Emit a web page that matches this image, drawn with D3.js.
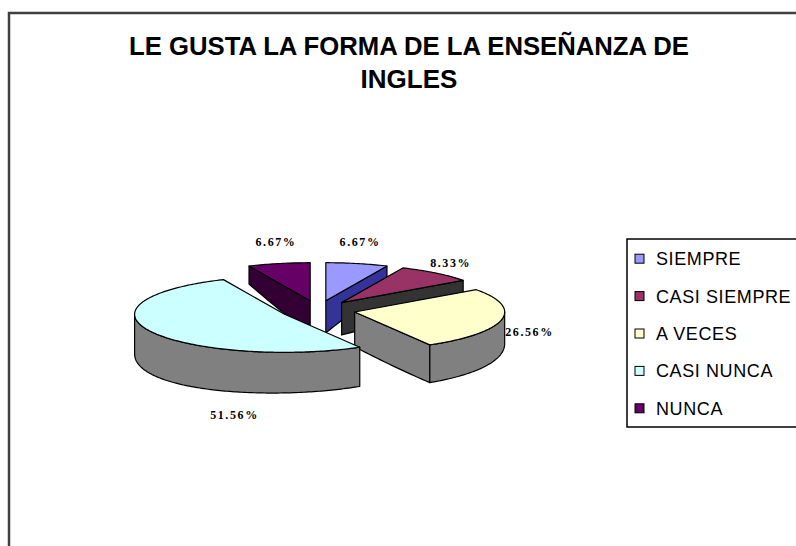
<!DOCTYPE html>
<html><head><meta charset="utf-8">
<script src="https://cdnjs.cloudflare.com/ajax/libs/d3/7.8.5/d3.min.js"></script>
<style>html,body{margin:0;padding:0;background:#fff;overflow:hidden}</style>
</head><body>
<svg id="chart" width="796" height="546"></svg>
<script>
// ---- data ----
const titleLines = ["LE GUSTA LA FORMA DE LA ENSEÑANZA DE", "INGLES"];
const categories = ["SIEMPRE", "CASI SIEMPRE", "A VECES", "CASI NUNCA", "NUNCA"];
const values = [6.67, 8.33, 26.56, 51.56, 6.67];
const topColors = ["#9999FF", "#993366", "#FFFFCC", "#CCFFFF", "#660066"];
const sideColors = ["#333399", "#333333", "#808080", "#808080", "#330033"];

const W = 796, H = 546;
const svg = d3.select("#chart");
svg.append("rect").attr("width", W).attr("height", H).attr("fill", "#fff");

// chart frame (only top & left visible)
svg.append("path").attr("d", "M9,550 L9,13 L802,13")
  .attr("fill", "none").attr("stroke", "#404040").attr("stroke-width", 2.5);

// title
const titleFont = "'Liberation Sans', Arial, Helvetica, sans-serif";
const title = svg.selectAll("text.title").data(titleLines).join("text")
  .attr("class", "title")
  .attr("x", 409).attr("y", (d, i) => 55 + i * 33)
  .attr("text-anchor", "middle")
  .attr("font-family", titleFont).attr("font-weight", "bold").attr("font-size", 26)
  .attr("fill", "#000").text(d => d);
title.filter((d, i) => i === 0).attr("textLength", 560).attr("lengthAdjust", "spacingAndGlyphs");

// ---- 3D pie ----
const cx = 318, cy = 310, rx = 150, ry = 38, explode = 0.25;
const sx = d3.scaleLinear().domain([-1, 1]).range([cx - rx, cx + rx]);
const sy = d3.scaleLinear().domain([-1, 1]).range([cy + ry, cy - ry]);
const wallH = (x, z) => 35 - 10 * z - 5 * z * z - 3 * x;
const proj = (x, z, bottom) => [sx(x), sy(z) + (bottom ? wallH(x, z) : 0)];

const arcs = d3.pie().sort(null).value(d => d)(values);
const DEG = Math.PI / 180;

const slices = arcs.map((a, i) => {
  const a0 = a.startAngle, a1 = a.endAngle, mid = (a0 + a1) / 2;
  const ox = explode * Math.sin(mid), oz = explode * Math.cos(mid);
  const rimW = t => [ox + Math.sin(t), oz + Math.cos(t)];
  const arcPts = (from, to, bottom) => {
    const n = Math.max(2, Math.ceil(Math.abs(to - from) / DEG));
    return d3.range(n + 1).map(k => {
      const t = from + (to - from) * k / n;
      const w = rimW(t);
      return proj(w[0], w[1], bottom);
    });
  };
  const radialLine = (t, bottom, reverse) => {
    const pts = d3.range(21).map(k => {
      const f = k / 20;
      return proj(ox + f * Math.sin(t), oz + f * Math.cos(t), bottom);
    });
    return reverse ? pts.reverse() : pts;
  };
  const faces = [];
  if (Math.sin(a0) < -1e-6) {
    faces.push(radialLine(a0, false, false).concat(radialLine(a0, true, true)));
  }
  if (Math.sin(a1) > 1e-6) {
    faces.push(radialLine(a1, false, false).concat(radialLine(a1, true, true)));
  }
  const lo = Math.max(a0, Math.PI / 2), hi = Math.min(a1, 3 * Math.PI / 2);
  if (hi > lo) {
    faces.push(arcPts(lo, hi, false).concat(arcPts(hi, lo, true)));
  }
  const top = [proj(ox, oz, false)].concat(arcPts(a0, a1, false));
  return {i, a0, a1, mid, ox, oz, faces, top, rimW};
});

const pathOf = pts => "M" + pts.map(p => p[0].toFixed(2) + "," + p[1].toFixed(2)).join("L") + "Z";
const pieG = svg.append("g");
slices.slice().sort((p, q) => q.oz - p.oz).forEach(s => {
  const g = pieG.append("g");
  s.faces.forEach(f => g.append("path").attr("d", pathOf(f))
    .attr("fill", sideColors[s.i]).attr("stroke", "#000").attr("stroke-width", 1.2).attr("stroke-linejoin", "round"));
  g.append("path").attr("d", pathOf(s.top))
    .attr("fill", topColors[s.i]).attr("stroke", "#000").attr("stroke-width", 1.2).attr("stroke-linejoin", "round");
});

// ---- data labels ----
const labelFont = "'Liberation Serif', 'Times New Roman', Times, serif";
slices.forEach(s => {
  const apex = proj(s.ox, s.oz, false);
  const vec = t => { const w = s.rimW(t); const p = proj(w[0], w[1], false); return [p[0] - apex[0], p[1] - apex[1]]; };
  const norm = v => { const l = Math.hypot(v[0], v[1]) || 1; return [v[0] / l, v[1] / l]; };
  const vs = norm(vec(s.a0)), ve = norm(vec(s.a1)), vm = vec(s.mid);
  let u = [vs[0] + ve[0], vs[1] + ve[1]];
  if (u[0] * vm[0] + u[1] * vm[1] < 0) u = [-u[0], -u[1]];
  u = norm(u);
  const polys = s.faces.concat([s.top]);
  let last = 0;
  for (let t = 1; t < 400; t += 1) {
    const pt = [apex[0] + u[0] * t, apex[1] + u[1] * t];
    if (polys.some(p => d3.polygonContains(p, pt))) last = t;
  }
  const d = last + 25;
  svg.append("text")
    .attr("x", apex[0] + u[0] * d).attr("y", apex[1] + u[1] * d)
    .attr("text-anchor", "middle").attr("dy", "0.35em")
    .attr("font-family", labelFont).attr("font-size", 12).attr("font-weight", "bold")
    .attr("letter-spacing", "1.6px").attr("fill", "#000")
    .text(values[s.i].toFixed(2) + "%");
});

// ---- legend ----
const legendFont = "'Liberation Sans', Arial, Helvetica, sans-serif";
const ly = d3.scaleBand().domain(categories).range([240, 427]);
svg.append("rect").attr("x", 627).attr("y", 239).attr("width", 200).attr("height", 188)
  .attr("fill", "#fff").attr("stroke", "#000").attr("stroke-width", 1.5);
const items = svg.selectAll("g.leg").data(categories).join("g").attr("class", "leg")
  .attr("transform", d => `translate(0,${ly(d) + ly.bandwidth() / 2})`);
items.append("rect").attr("x", 635).attr("y", -4.5).attr("width", 9).attr("height", 9)
  .attr("fill", (d, i) => topColors[i]).attr("stroke", "#000").attr("stroke-width", 1);
items.append("text").attr("x", 656).attr("y", 0).attr("dy", "0.36em")
  .attr("font-family", legendFont).attr("font-size", 18).attr("letter-spacing", "0.6px").attr("fill", "#000")
  .text(d => d);
</script>
</body></html>
